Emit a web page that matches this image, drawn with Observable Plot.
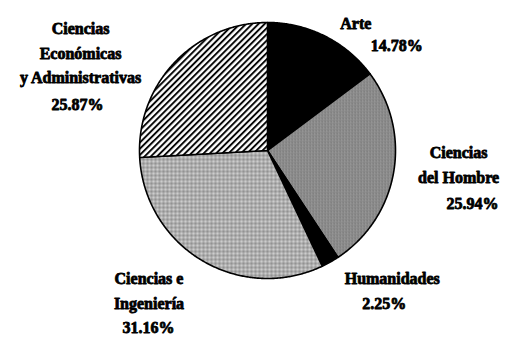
<!DOCTYPE html>
<html><head><meta charset="utf-8">
<script src="https://cdn.jsdelivr.net/npm/d3@7"></script>
<script src="https://cdn.jsdelivr.net/npm/@observablehq/plot@0.6"></script>
<style>html,body{margin:0;padding:0;background:#fff;} #chart svg{display:block}</style>
</head><body>
<svg width="0" height="0" style="position:absolute">
<defs>
<pattern id="hatch" patternUnits="userSpaceOnUse" width="4.4" height="4.4" patternTransform="rotate(45)">
<rect width="4.4" height="4.4" fill="#fff"/><line x1="1" y1="0" x2="1" y2="4.4" stroke="#000" stroke-width="1.9"/>
</pattern>
<pattern id="medgray" patternUnits="userSpaceOnUse" width="3" height="3">
<rect width="3" height="3" fill="#8e8e8e"/><rect x="0" y="0" width="1" height="2" fill="#737373"/><rect x="2" y="1" width="1" height="1" fill="#a6a6a6"/>
</pattern>
<pattern id="lightgray" patternUnits="userSpaceOnUse" width="4" height="4">
<rect width="4" height="4" fill="#adadad"/><rect x="0" y="0" width="2" height="2" fill="#cdcdcd"/><rect x="2" y="2" width="2" height="2" fill="#929292"/>
</pattern>
</defs></svg>
<div id="chart"></div>
<script>
const categories = ["Arte", "Ciencias del Hombre", "Humanidades", "Ciencias e Ingeniería", "Ciencias Económicas y Administrativas"];
const values = [14.78, 25.94, 2.25, 31.16, 25.87];
const nameLabels = ["Arte", "Ciencias\ndel Hombre", "Humanidades", "Ciencias e\nIngeniería", "Ciencias\nEconómicas\ny Administrativas"];
const pctLabels = ["14.78%", "25.94%", "2.25%", "31.16%", "25.87%"];
const fills = ["#000", "url(#medgray)", "#000", "url(#lightgray)", "url(#hatch)"];

// layout (pixels)
const W = 507, H = 339, CX = 267, CY = 150, R = 128;
const nameOffsets = [[31, -15], [65, -10], [62, 14.5], [-53, 28], [-94, -11.5]];
const pctOffsets = [[72, 7], [79, 29], [54, 39.5], [-53.5, 65], [-97, 40]];

const arcs = d3.pie().sort(null).value(d => d)(values);
const poly = [];
arcs.forEach((a, i) => {
  const name = categories[i];
  poly.push({name, x: 0, y: 0});
  const n = Math.max(2, Math.ceil((a.endAngle - a.startAngle) / (Math.PI / 360)));
  for (let k = 0; k <= n; k++) {
    const t = a.startAngle + (a.endAngle - a.startAngle) * k / n;
    poly.push({name, x: Math.sin(t), y: Math.cos(t)});
  }
  poly.push({name, x: 0, y: 0});
});
const labels = [];
arcs.forEach((a, i) => {
  const m = (a.startAngle + a.endAngle) / 2;
  const ex = Math.sin(m), ey = Math.cos(m);
  labels.push({text: nameLabels[i], x: ex + nameOffsets[i][0] / R, y: ey - nameOffsets[i][1] / R});
  labels.push({text: pctLabels[i], x: ex + pctOffsets[i][0] / R, y: ey - pctOffsets[i][1] / R});
});

const chart = Plot.plot({
  width: W, height: H,
  margin: 0,
  x: {domain: [-CX / R, (W - CX) / R], axis: null},
  y: {domain: [-(H - CY) / R, CY / R], axis: null},
  color: {domain: categories, range: fills},
  marks: [
    Plot.line(poly, {x: "x", y: "y", z: "name", fill: "name", stroke: "#000", strokeWidth: 1.6, strokeLinejoin: "round", curve: "linear"}),
    Plot.text(labels, {x: "x", y: "y", text: "text", fontSize: 16, fontWeight: "bold", fontFamily: "Liberation Serif", lineHeight: 1.53, fill: "#000", stroke: "#000", strokeWidth: 0.8})
  ]
});
document.getElementById("chart").appendChild(chart);
</script>
</body></html>
